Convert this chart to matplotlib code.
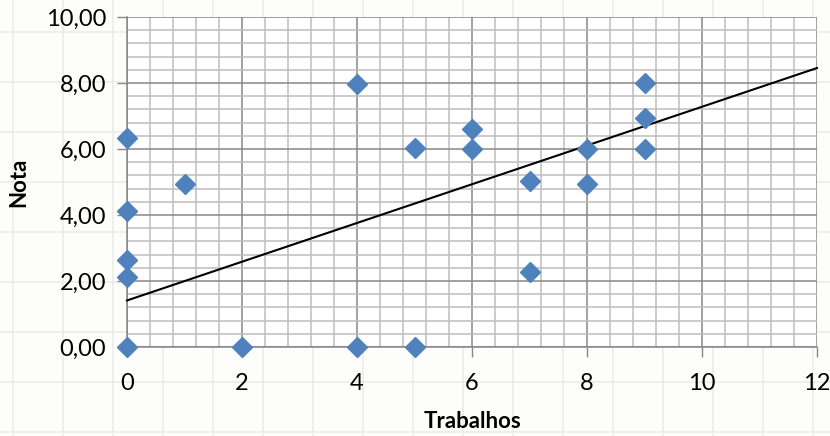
import matplotlib.pyplot as plt
from matplotlib.ticker import MultipleLocator, FuncFormatter
from matplotlib.lines import Line2D

# data
trabalhos = [0, 0, 0, 0, 0, 1, 2, 4, 4, 5, 5, 6, 6, 7, 7, 8, 8, 9, 9, 9]
nota = [6.33, 4.12, 2.64, 2.12, 0.0, 4.94, 0.0, 7.96, 0.0, 6.03, 0.0,
        6.60, 6.00, 5.03, 2.27, 6.00, 4.94, 8.00, 6.94, 6.00]

# trend line shown in the chart (intercept, slope)
trend_b = 1.41
trend_a = 0.587
trend_x = [0, 12]

plt.rcParams['font.family'] = ['Lato', 'DejaVu Sans']

fig = plt.figure(figsize=(8.3, 4.36), dpi=100)
fig.patch.set_facecolor('#fdfdfb')

# faint spreadsheet cells behind the chart
W, H = 830, 436
for px in range(13, W, 50):
    fig.add_artist(Line2D([px / W, px / W], [0, 1], color='#ebebe8', lw=1.2, zorder=0))
for py in range(32, H, 50):
    fig.add_artist(Line2D([0, 1], [1 - py / H, 1 - py / H], color='#ebebe8', lw=1.2, zorder=0))

ax = fig.add_axes([127 / W, 1 - 347 / H, (817 - 127) / W, (347 - 17) / H])
ax.set_facecolor('white')

ax.set_xlim(0, 12)
ax.set_ylim(0, 10)
ax.xaxis.set_major_locator(MultipleLocator(2))
ax.xaxis.set_minor_locator(MultipleLocator(0.4))
ax.yaxis.set_major_locator(MultipleLocator(2))
ax.yaxis.set_minor_locator(MultipleLocator(0.4))
ax.yaxis.set_major_formatter(FuncFormatter(lambda v, p: f"{v:.2f}".replace('.', ',')))

ax.grid(which='minor', color='#bdbdbd', lw=1.1)
ax.grid(which='major', color='#878787', lw=1.1)
ax.set_axisbelow(True)

for s in ['top', 'right']:
    ax.spines[s].set_visible(False)
for s in ['left', 'bottom']:
    ax.spines[s].set_color('#878787')
    ax.spines[s].set_linewidth(1.1)

ax.tick_params(which='major', direction='out', length=7, width=1, color='#878787',
               labelsize=17, labelcolor='black')
ax.tick_params(axis='x', which='major', pad=12)
ax.tick_params(axis='y', which='major', pad=8)
ax.tick_params(which='minor', length=0)

ax.plot(trend_x, [trend_b + trend_a * x for x in trend_x], color='black', lw=1.5,
        zorder=3, clip_on=False)
ax.plot(trabalhos, nota, linestyle='none', marker='D', markersize=10,
        color='#4f81bd', markeredgecolor='#4f81bd', zorder=4, clip_on=False)

ax.set_xlabel('Trabalhos', fontsize=16, fontweight='bold', labelpad=12)
ax.set_ylabel('Nota', fontsize=16, fontweight='bold', labelpad=12)

fig.savefig('out.png', dpi=100, facecolor=fig.get_facecolor())
